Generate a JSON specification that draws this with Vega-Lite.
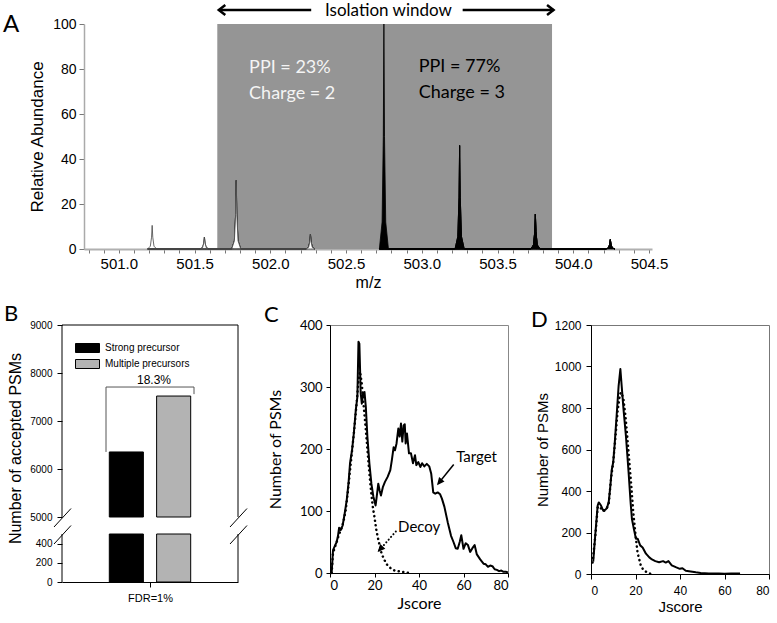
{
  "$schema": "https://vega.github.io/schema/vega-lite/v6.json",
  "background": "white",
  "padding": {"left": 2, "top": 0, "right": 0, "bottom": 0},
  "config": {
    "view": {"stroke": null},
    "font": "Liberation Sans",
    "axis": {"labelColor": "black", "titleColor": "black", "titleFontWeight": "normal", "grid": false, "domainColor": "black", "tickColor": "black", "labelOverlap": false}
  },
  "datasets": {
    "win": [{"start": 501.65, "end": 503.86, "top": 100}],
    "peaks": [
      {"peak": "p1", "kind": "open", "mz": 501.19, "ab": 0}, {"peak": "p1", "kind": "open", "mz": 501.208, "ab": 1.26}, {"peak": "p1", "kind": "open", "mz": 501.216, "ab": 5.25}, {"peak": "p1", "kind": "open", "mz": 501.22, "ab": 10.5}, {"peak": "p1", "kind": "open", "mz": 501.224, "ab": 5.25}, {"peak": "p1", "kind": "open", "mz": 501.232, "ab": 1.26}, {"peak": "p1", "kind": "open", "mz": 501.25, "ab": 0},
      {"peak": "p2", "kind": "open", "mz": 501.535, "ab": 0}, {"peak": "p2", "kind": "open", "mz": 501.553, "ab": 0.64}, {"peak": "p2", "kind": "open", "mz": 501.561, "ab": 2.65}, {"peak": "p2", "kind": "open", "mz": 501.565, "ab": 5.3}, {"peak": "p2", "kind": "open", "mz": 501.569, "ab": 2.65}, {"peak": "p2", "kind": "open", "mz": 501.577, "ab": 0.64}, {"peak": "p2", "kind": "open", "mz": 501.595, "ab": 0},
      {"peak": "p3", "kind": "open", "mz": 501.745, "ab": 0}, {"peak": "p3", "kind": "open", "mz": 501.763, "ab": 3.66}, {"peak": "p3", "kind": "open", "mz": 501.771, "ab": 15.25}, {"peak": "p3", "kind": "open", "mz": 501.775, "ab": 30.5}, {"peak": "p3", "kind": "open", "mz": 501.779, "ab": 15.25}, {"peak": "p3", "kind": "open", "mz": 501.787, "ab": 3.66}, {"peak": "p3", "kind": "open", "mz": 501.805, "ab": 0},
      {"peak": "p4", "kind": "open", "mz": 502.235, "ab": 0}, {"peak": "p4", "kind": "open", "mz": 502.253, "ab": 0.78}, {"peak": "p4", "kind": "open", "mz": 502.261, "ab": 3.25}, {"peak": "p4", "kind": "open", "mz": 502.265, "ab": 6.5}, {"peak": "p4", "kind": "open", "mz": 502.269, "ab": 3.25}, {"peak": "p4", "kind": "open", "mz": 502.277, "ab": 0.78}, {"peak": "p4", "kind": "open", "mz": 502.295, "ab": 0},
      {"peak": "p5", "kind": "filled", "mz": 502.72, "ab": 0}, {"peak": "p5", "kind": "filled", "mz": 502.738, "ab": 12}, {"peak": "p5", "kind": "filled", "mz": 502.746, "ab": 50}, {"peak": "p5", "kind": "filled", "mz": 502.75, "ab": 100}, {"peak": "p5", "kind": "filled", "mz": 502.754, "ab": 50}, {"peak": "p5", "kind": "filled", "mz": 502.762, "ab": 12}, {"peak": "p5", "kind": "filled", "mz": 502.78, "ab": 0},
      {"peak": "p6", "kind": "filled", "mz": 503.22, "ab": 0}, {"peak": "p6", "kind": "filled", "mz": 503.238, "ab": 5.52}, {"peak": "p6", "kind": "filled", "mz": 503.246, "ab": 23}, {"peak": "p6", "kind": "filled", "mz": 503.25, "ab": 46}, {"peak": "p6", "kind": "filled", "mz": 503.254, "ab": 23}, {"peak": "p6", "kind": "filled", "mz": 503.262, "ab": 5.52}, {"peak": "p6", "kind": "filled", "mz": 503.28, "ab": 0},
      {"peak": "p7", "kind": "filled", "mz": 503.72, "ab": 0}, {"peak": "p7", "kind": "filled", "mz": 503.738, "ab": 1.86}, {"peak": "p7", "kind": "filled", "mz": 503.746, "ab": 7.75}, {"peak": "p7", "kind": "filled", "mz": 503.75, "ab": 15.5}, {"peak": "p7", "kind": "filled", "mz": 503.754, "ab": 7.75}, {"peak": "p7", "kind": "filled", "mz": 503.762, "ab": 1.86}, {"peak": "p7", "kind": "filled", "mz": 503.78, "ab": 0},
      {"peak": "p8", "kind": "filled", "mz": 504.215, "ab": 0}, {"peak": "p8", "kind": "filled", "mz": 504.233, "ab": 0.5}, {"peak": "p8", "kind": "filled", "mz": 504.241, "ab": 2.1}, {"peak": "p8", "kind": "filled", "mz": 504.245, "ab": 4.2}, {"peak": "p8", "kind": "filled", "mz": 504.249, "ab": 2.1}, {"peak": "p8", "kind": "filled", "mz": 504.257, "ab": 0.5}, {"peak": "p8", "kind": "filled", "mz": 504.275, "ab": 0}
    ],
    "ppi": [
      {"label": "PPI = 23%", "mz": 501.86, "ab": 80.5, "grp": "low"},
      {"label": "Charge = 2", "mz": 501.86, "ab": 69, "grp": "low"},
      {"label": "PPI = 77%", "mz": 502.98, "ab": 81, "grp": "high"},
      {"label": "Charge = 3", "mz": 502.98, "ab": 69.5, "grp": "high"}
    ],
    "iso": [{"a": 501.66, "b": 502.27, "ab": 106.2}, {"a": 503.27, "b": 503.87, "ab": 106.2}],
    "isoHeadL": [{"mz": 501.66, "ab": 106.2}],
    "isoHeadR": [{"mz": 503.87, "ab": 106.2}],
    "isoLabel": [{"label": "Isolation window", "mz": 502.78, "ab": 105.9}],
    "panelA": [{"label": "A", "mz": 500.235, "ab": 99.6}],
    "spacer": [{}],
    "bars": [
      {"cat": "FDR=1%", "type": "Strong precursor", "n": 6355},
      {"cat": "FDR=1%", "type": "Multiple precursors", "n": 7520}
    ],
    "bracket": [
      {"type": "Strong precursor", "v": 6355, "i": 1},
      {"type": "Strong precursor", "v": 7708, "i": 2},
      {"type": "Multiple precursors", "v": 7708, "i": 3},
      {"type": "Multiple precursors", "v": 7560, "i": 4}
    ],
    "cat": [{"cat": "FDR=1%", "label": "18.3%", "v": 7850}],
    "frame": [
      {"edge": "L", "lo": 5000, "hi": 9000}, {"edge": "L", "lo": 0, "hi": 500},
      {"edge": "R", "lo": 5000, "hi": 9000}, {"edge": "R", "lo": 0, "hi": 500}
    ],
    "slash": [
      {"edge": "L", "v": 5000}, {"edge": "L", "v": 500},
      {"edge": "R", "v": 5000}, {"edge": "R", "v": 500}
    ],
    "panelB": [{"edge": "L", "v": 9000, "label": "B"}],
    "ct": [
      {"x": 0.75, "y": 0}, {"x": 1.35, "y": 37}, {"x": 2.1, "y": 43}, {"x": 3, "y": 50}, {"x": 3.6, "y": 60}, {"x": 4.1, "y": 73}, {"x": 4.8, "y": 69}, {"x": 5.7, "y": 77}, {"x": 6.6, "y": 96}, {"x": 7.5, "y": 117}, {"x": 8.3, "y": 144}, {"x": 9, "y": 177}, {"x": 9.9, "y": 198}, {"x": 10.7, "y": 225}, {"x": 11.6, "y": 263}, {"x": 12.3, "y": 284}, {"x": 12.8, "y": 373}, {"x": 13.2, "y": 370}, {"x": 13.8, "y": 290}, {"x": 14.3, "y": 273}, {"x": 14.9, "y": 290}, {"x": 15.5, "y": 292}, {"x": 16.1, "y": 268}, {"x": 16.8, "y": 220}, {"x": 17.7, "y": 177}, {"x": 18.6, "y": 144}, {"x": 19.5, "y": 123}, {"x": 20.5, "y": 109}, {"x": 21, "y": 123}, {"x": 21.7, "y": 144}, {"x": 22.3, "y": 133}, {"x": 22.9, "y": 125}, {"x": 23.8, "y": 139}, {"x": 24.7, "y": 147}, {"x": 25.9, "y": 155}, {"x": 27.1, "y": 166}, {"x": 27.8, "y": 182}, {"x": 28.6, "y": 203}, {"x": 29.2, "y": 198}, {"x": 29.9, "y": 209}, {"x": 30.7, "y": 233}, {"x": 31.3, "y": 220}, {"x": 31.9, "y": 241}, {"x": 32.5, "y": 212}, {"x": 33.1, "y": 238}, {"x": 33.6, "y": 240}, {"x": 34, "y": 209}, {"x": 34.6, "y": 225}, {"x": 35.5, "y": 193}, {"x": 36.4, "y": 193}, {"x": 37.3, "y": 177}, {"x": 38.2, "y": 190}, {"x": 38.8, "y": 174}, {"x": 39.7, "y": 179}, {"x": 40.6, "y": 171}, {"x": 41.4, "y": 177}, {"x": 42.4, "y": 172}, {"x": 43.5, "y": 176}, {"x": 44.6, "y": 172}, {"x": 45.5, "y": 160}, {"x": 46.4, "y": 130}, {"x": 47.3, "y": 128}, {"x": 48.4, "y": 130}, {"x": 49.5, "y": 127}, {"x": 50.3, "y": 120}, {"x": 51.4, "y": 107}, {"x": 52.9, "y": 82}, {"x": 54.4, "y": 60}, {"x": 55.5, "y": 50}, {"x": 56.5, "y": 40}, {"x": 57.4, "y": 39}, {"x": 58.3, "y": 50}, {"x": 59, "y": 61}, {"x": 60, "y": 39}, {"x": 61, "y": 48}, {"x": 62, "y": 45}, {"x": 63, "y": 34}, {"x": 64, "y": 40}, {"x": 65, "y": 45}, {"x": 66, "y": 30}, {"x": 67.5, "y": 22}, {"x": 69, "y": 15}, {"x": 70, "y": 14}, {"x": 71, "y": 10}, {"x": 72, "y": 12}, {"x": 73, "y": 11}, {"x": 74, "y": 6}, {"x": 75, "y": 5}, {"x": 76, "y": 3}, {"x": 77, "y": 4}, {"x": 78, "y": 2}, {"x": 79, "y": 2}, {"x": 80, "y": 1}
    ],
    "cd": [
      {"x": 0.75, "y": 0}, {"x": 1.3, "y": 30}, {"x": 2, "y": 40}, {"x": 3, "y": 50}, {"x": 4, "y": 62}, {"x": 5, "y": 70}, {"x": 6, "y": 82}, {"x": 7, "y": 100}, {"x": 8, "y": 130}, {"x": 9, "y": 165}, {"x": 10, "y": 200}, {"x": 11, "y": 235}, {"x": 12, "y": 275}, {"x": 12.8, "y": 310}, {"x": 13.5, "y": 325}, {"x": 14.3, "y": 305}, {"x": 15, "y": 275}, {"x": 16, "y": 235}, {"x": 16.8, "y": 200}, {"x": 17.6, "y": 165}, {"x": 18.5, "y": 130}, {"x": 19.3, "y": 105}, {"x": 20, "y": 90}, {"x": 20.8, "y": 70}, {"x": 21.5, "y": 57}, {"x": 22.5, "y": 42}, {"x": 23.2, "y": 31}, {"x": 24.3, "y": 22}, {"x": 25.5, "y": 14}, {"x": 26.8, "y": 9}, {"x": 28, "y": 6}, {"x": 29, "y": 4}, {"x": 30.5, "y": 3}, {"x": 32, "y": 2}, {"x": 34, "y": 1}, {"x": 35.5, "y": 0}
    ],
    "cann": [{"label": "Target", "x": 56.7, "y": 187}, {"label": "Decoy", "x": 30.6, "y": 74}],
    "carrT": [{"x": 55.6, "y": 175, "x2": 48.6, "y2": 144}],
    "carrD": [{"x": 29.6, "y": 67, "x2": 22, "y2": 36}],
    "cheadT": [{"x": 48.1, "y": 141.6}],
    "cheadD": [{"x": 21.4, "y": 34}],
    "panelC": [{"label": "C", "x": -29.7, "y": 416}],
    "dt": [
      {"x": 1, "y": 60}, {"x": 2, "y": 200}, {"x": 3, "y": 330}, {"x": 3.5, "y": 345}, {"x": 4.5, "y": 330}, {"x": 5.5, "y": 305}, {"x": 6.5, "y": 310}, {"x": 7.2, "y": 318}, {"x": 8, "y": 350}, {"x": 8.7, "y": 425}, {"x": 9.3, "y": 500}, {"x": 10, "y": 540}, {"x": 10.6, "y": 620}, {"x": 11.5, "y": 760}, {"x": 12.4, "y": 905}, {"x": 13.2, "y": 988}, {"x": 13.8, "y": 905}, {"x": 14.6, "y": 795}, {"x": 15.7, "y": 665}, {"x": 16.9, "y": 490}, {"x": 17.8, "y": 345}, {"x": 18.4, "y": 265}, {"x": 19.3, "y": 215}, {"x": 20.2, "y": 170}, {"x": 21, "y": 170}, {"x": 22.1, "y": 138}, {"x": 23.2, "y": 128}, {"x": 24.7, "y": 98}, {"x": 26.2, "y": 80}, {"x": 27.4, "y": 70}, {"x": 28.9, "y": 62}, {"x": 30.6, "y": 57}, {"x": 32.4, "y": 62}, {"x": 33.6, "y": 55}, {"x": 34.8, "y": 62}, {"x": 36.3, "y": 42}, {"x": 38.1, "y": 33}, {"x": 39.9, "y": 25}, {"x": 41.1, "y": 28}, {"x": 42.6, "y": 16}, {"x": 44.8, "y": 12}, {"x": 47.1, "y": 8}, {"x": 49.3, "y": 5}, {"x": 53, "y": 3}, {"x": 57.5, "y": 2}, {"x": 60, "y": 1}, {"x": 63, "y": 3}, {"x": 65, "y": 2}, {"x": 67, "y": 3}
    ],
    "dd": [
      {"x": 0.7, "y": 55}, {"x": 2, "y": 190}, {"x": 3, "y": 320}, {"x": 4, "y": 325}, {"x": 5, "y": 305}, {"x": 6, "y": 305}, {"x": 7, "y": 315}, {"x": 8, "y": 340}, {"x": 9, "y": 460}, {"x": 10, "y": 540}, {"x": 11, "y": 660}, {"x": 12, "y": 790}, {"x": 13, "y": 865}, {"x": 13.5, "y": 875}, {"x": 14.5, "y": 850}, {"x": 15.5, "y": 760}, {"x": 16.4, "y": 650}, {"x": 17.3, "y": 530}, {"x": 18.1, "y": 426}, {"x": 19, "y": 297}, {"x": 19.9, "y": 200}, {"x": 20.9, "y": 104}, {"x": 22.4, "y": 40}, {"x": 23.5, "y": 20}, {"x": 24.7, "y": 11}, {"x": 26, "y": 4}, {"x": 27, "y": 0}
    ],
    "panelD": [{"label": "D", "x": -27, "y": 1222}]
  },
  "vconcat": [
    {
      "hconcat": [
        {
          "width": 1,
          "height": 225,
          "data": {"name": "spacer"},
          "mark": {"type": "point", "opacity": 0, "size": 1}
        },
        {
          "width": 568,
          "height": 225,
          "layer": [
            {
              "data": {"name": "win"},
              "mark": {"type": "rect", "color": "#959595"},
              "encoding": {
                "x": {"field": "start", "type": "quantitative", "scale": {"domain": [500.77, 504.52], "nice": false, "zero": false},
                  "axis": {"orient": "bottom", "values": [500.8, 500.9, 501.1, 501.2, 501.3, 501.4, 501.6, 501.7, 501.8, 501.9, 502.1, 502.2, 502.3, 502.4, 502.6, 502.7, 502.8, 502.9, 503.1, 503.2, 503.3, 503.4, 503.6, 503.7, 503.8, 503.9, 504.1, 504.2, 504.3, 504.4],
                    "tickCount": 100, "labels": false, "tickSize": 4, "tickColor": "#777", "domain": false, "title": null}},
                "x2": {"field": "end"},
                "y": {"field": "top", "type": "quantitative", "scale": {"domain": [0, 100], "nice": false},
                  "axis": {"values": [0, 20, 40, 60, 80, 100], "tickCount": 100, "labelFontSize": 14, "labelPadding": 3, "tickSize": 5, "tickColor": "#777", "domainColor": "#aaa", "domainWidth": 1.5,
                    "title": "Relative Abundance", "titleFontSize": 17, "titlePadding": 6}},
                "y2": {"datum": 0}
              }
            },
            {
              "data": {"name": "peaks"},
              "transform": [{"filter": "datum.kind === 'open'"}],
              "mark": {"type": "area", "fill": "white", "stroke": "#444", "strokeWidth": 0.8},
              "encoding": {
                "x": {"field": "mz", "type": "quantitative",
                  "axis": {"orient": "bottom", "values": [501.0, 501.5, 502.0, 502.5, 503.0, 503.5, 504.0, 504.5], "tickCount": 100, "format": ".1f",
                    "labelFontSize": 15, "labelPadding": 3, "tickSize": 4, "tickColor": "#777", "domainColor": "#b0b0b0", "domainWidth": 2,
                    "title": "m/z", "titleFontSize": 16, "titlePadding": 3}},
                "y": {"field": "ab", "type": "quantitative"},
                "detail": {"field": "peak"}
              }
            },
            {
              "data": {"name": "peaks"},
              "transform": [{"filter": "datum.kind === 'filled'"}],
              "mark": {"type": "area", "fill": "black", "stroke": "black", "strokeWidth": 0.8},
              "encoding": {
                "x": {"field": "mz", "type": "quantitative", "axis": null},
                "y": {"field": "ab", "type": "quantitative"},
                "detail": {"field": "peak"}
              }
            },
            {
              "data": {"name": "ppi"},
              "transform": [{"filter": "datum.grp === 'low'"}],
              "mark": {"type": "text", "font": "Lato", "fontSize": 18, "align": "left", "baseline": "middle", "color": "#f4f4f4"},
              "encoding": {
                "x": {"field": "mz", "type": "quantitative", "axis": null},
                "y": {"field": "ab", "type": "quantitative"},
                "text": {"field": "label"}
              }
            },
            {
              "data": {"name": "ppi"},
              "transform": [{"filter": "datum.grp === 'high'"}],
              "mark": {"type": "text", "font": "Lato", "fontSize": 18, "align": "left", "baseline": "middle", "color": "black"},
              "encoding": {
                "x": {"field": "mz", "type": "quantitative", "axis": null},
                "y": {"field": "ab", "type": "quantitative"},
                "text": {"field": "label"}
              }
            },
            {
              "data": {"name": "iso"},
              "mark": {"type": "rule", "color": "black", "strokeWidth": 2.5},
              "encoding": {
                "x": {"field": "a", "type": "quantitative", "axis": null},
                "x2": {"field": "b"},
                "y": {"field": "ab", "type": "quantitative"}
              }
            },
            {
              "data": {"name": "isoHeadL"},
              "mark": {"type": "point", "shape": "M1.3,-1L0,0L1.3,1", "size": 100, "color": "black", "strokeWidth": 2.5, "opacity": 1, "filled": false},
              "encoding": {
                "x": {"field": "mz", "type": "quantitative", "axis": null},
                "y": {"field": "ab", "type": "quantitative"}
              }
            },
            {
              "data": {"name": "isoHeadR"},
              "mark": {"type": "point", "shape": "M-1.3,-1L0,0L-1.3,1", "size": 100, "color": "black", "strokeWidth": 2.5, "opacity": 1, "filled": false},
              "encoding": {
                "x": {"field": "mz", "type": "quantitative", "axis": null},
                "y": {"field": "ab", "type": "quantitative"}
              }
            },
            {
              "data": {"name": "isoLabel"},
              "mark": {"type": "text", "font": "Lato", "fontSize": 17, "align": "center", "baseline": "middle", "color": "black"},
              "encoding": {
                "x": {"field": "mz", "type": "quantitative", "axis": null},
                "y": {"field": "ab", "type": "quantitative"},
                "text": {"field": "label"}
              }
            },
            {
              "data": {"name": "panelA"},
              "mark": {"type": "text", "font": "Lato", "fontSize": 24, "align": "left", "baseline": "middle", "color": "black"},
              "encoding": {
                "x": {"field": "mz", "type": "quantitative", "axis": null},
                "y": {"field": "ab", "type": "quantitative"},
                "text": {"field": "label"}
              }
            }
          ],
          "resolve": {"axis": {"x": "independent"}}
        }
      ],
      "spacing": 21,
      "bounds": "flush"
    },
    {
      "hconcat": [
        {
          "width": 176,
          "height": 257,
          "layer": [
            {
              "data": {"name": "bars"},
              "mark": {"type": "bar", "stroke": "black", "strokeWidth": 1},
              "encoding": {
                "x": {"field": "type", "type": "nominal", "sort": ["Strong precursor", "Multiple precursors"],
                  "scale": {"domain": ["Strong precursor", "Multiple precursors"], "paddingInner": 0.28, "paddingOuter": 1.63}, "axis": null},
                "y": {"field": "n", "type": "quantitative",
                  "scale": {"domain": [0, 500, 5000, 9000], "range": [257, 209, 192, 0], "nice": false, "zero": false},
                  "axis": {"values": [0, 200, 400, 5000, 6000, 7000, 8000, 9000], "tickCount": 100, "format": "d", "domain": false, "labelFontSize": 10, "labelPadding": 5, "tickSize": 5,
                    "title": "Number of accepted PSMs", "titleFontSize": 16, "titlePadding": 6, "titleY": 123}},
                "y2": {"datum": 5000},
                "fill": {"field": "type", "type": "nominal",
                  "scale": {"domain": ["Strong precursor", "Multiple precursors"], "range": ["black", "#b3b3b3"]},
                  "legend": {"title": null, "orient": "none", "legendX": 20, "legendY": 17.5, "symbolType": "M-2.4,-0.9H2.4V0.9H-2.4Z", "symbolSize": 100,
                    "symbolStrokeColor": "black", "symbolStrokeWidth": 1, "symbolOpacity": 1, "labelFontSize": 10, "labelOffset": 12, "rowPadding": 3, "padding": 0}}
              }
            },
            {
              "data": {"name": "bars"},
              "mark": {"type": "bar", "stroke": "black", "strokeWidth": 1},
              "encoding": {
                "x": {"field": "type", "type": "nominal", "sort": ["Strong precursor", "Multiple precursors"],
                  "scale": {"domain": ["Strong precursor", "Multiple precursors"], "paddingInner": 0.28, "paddingOuter": 1.63}, "axis": null},
                "y": {"datum": 500},
                "y2": {"datum": 0},
                "fill": {"field": "type", "type": "nominal"}
              }
            },
            {
              "data": {"name": "bracket"},
              "mark": {"type": "line", "color": "#555", "strokeWidth": 1},
              "encoding": {
                "x": {"field": "type", "type": "nominal", "sort": ["Strong precursor", "Multiple precursors"],
                  "scale": {"domain": ["Strong precursor", "Multiple precursors"], "paddingInner": 0.28, "paddingOuter": 1.63}, "axis": null},
                "y": {"field": "v", "type": "quantitative"},
                "order": {"field": "i"}
              }
            },
            {
              "data": {"name": "cat"},
              "mark": {"type": "text", "fontSize": 12, "dx": 4, "baseline": "middle"},
              "encoding": {
                "x": {"field": "cat", "type": "nominal", "scale": {"paddingInner": 0, "paddingOuter": 0},
                  "axis": {"orient": "bottom", "bandPosition": 0.5, "labelFontSize": 11, "labelPadding": 5, "tickSize": 5, "labelAngle": 0, "title": null, "domainColor": "black"}},
                "y": {"field": "v", "type": "quantitative"},
                "text": {"field": "label"}
              }
            },
            {
              "data": {"name": "frame"},
              "mark": {"type": "rule", "color": "black", "strokeWidth": 1},
              "encoding": {
                "x": {"field": "edge", "type": "ordinal", "scale": {"type": "point", "domain": ["L", "R"], "padding": 0}, "axis": null},
                "y": {"field": "lo", "type": "quantitative"},
                "y2": {"field": "hi"}
              }
            },
            {
              "data": {"name": "panelB"},
              "mark": {"type": "rule", "color": "black", "strokeWidth": 1},
              "encoding": {
                "y": {"field": "v", "type": "quantitative"}
              }
            },
            {
              "data": {"name": "slash"},
              "mark": {"type": "point", "shape": "M-0.8,1L0.9,-0.85", "size": 400, "color": "black", "strokeWidth": 1, "opacity": 1, "filled": false},
              "encoding": {
                "x": {"field": "edge", "type": "ordinal", "scale": {"type": "point", "domain": ["L", "R"], "padding": 0}, "axis": null},
                "y": {"field": "v", "type": "quantitative"}
              }
            },
            {
              "data": {"name": "panelB"},
              "mark": {"type": "text", "font": "Lato", "fontSize": 22, "align": "left", "baseline": "middle", "dx": -58, "dy": -11},
              "encoding": {
                "x": {"field": "edge", "type": "ordinal", "scale": {"type": "point", "domain": ["L", "R"], "padding": 0}, "axis": null},
                "y": {"field": "v", "type": "quantitative"},
                "text": {"field": "label"}
              }
            }
          ],
          "resolve": {"scale": {"x": "independent"}, "axis": {"x": "independent"}}
        },
        {
          "hconcat": [
            {
              "width": 178,
              "height": 248,
              "view": {"stroke": "#888"},
              "layer": [
                {
                  "data": {"name": "ct"},
                  "mark": {"type": "line", "color": "black", "strokeWidth": 2, "strokeJoin": "round"},
                  "encoding": {
                    "x": {"field": "x", "type": "quantitative", "scale": {"domain": [0, 80], "nice": false},
                      "axis": {"values": [0, 20, 40, 60, 80], "labelFont": "Lato", "labelFontSize": 13, "labelPadding": 2, "tickSize": 4, "title": "Jscore", "titleFont": "Lato", "titleFontSize": 16, "titlePadding": 3}},
                    "y": {"field": "y", "type": "quantitative", "scale": {"domain": [0, 400], "nice": false},
                      "axis": {"values": [0, 100, 200, 300, 400], "labelFont": "Lato", "labelFontSize": 13, "labelPadding": 4, "tickSize": 4, "title": "Number of PSMs", "titleFont": "Lato", "titleFontSize": 16, "titlePadding": 16}}
                  }
                },
                {
                  "data": {"name": "cd"},
                  "mark": {"type": "line", "color": "black", "strokeWidth": 2.5, "strokeDash": [0.1, 4.5], "strokeCap": "round"},
                  "encoding": {
                    "x": {"field": "x", "type": "quantitative"},
                    "y": {"field": "y", "type": "quantitative"}
                  }
                },
                {
                  "data": {"name": "cann"},
                  "mark": {"type": "text", "font": "Lato", "fontSize": 15, "align": "left", "baseline": "middle", "color": "black"},
                  "encoding": {
                    "x": {"field": "x", "type": "quantitative"},
                    "y": {"field": "y", "type": "quantitative"},
                    "text": {"field": "label"}
                  }
                },
                {
                  "data": {"name": "carrT"},
                  "mark": {"type": "rule", "color": "black", "strokeWidth": 1.5},
                  "encoding": {
                    "x": {"field": "x", "type": "quantitative"},
                    "y": {"field": "y", "type": "quantitative"},
                    "x2": {"field": "x2"},
                    "y2": {"field": "y2"}
                  }
                },
                {
                  "data": {"name": "carrD"},
                  "mark": {"type": "rule", "color": "black", "strokeWidth": 2, "strokeDash": [0.1, 3.5], "strokeCap": "round"},
                  "encoding": {
                    "x": {"field": "x", "type": "quantitative"},
                    "y": {"field": "y", "type": "quantitative"},
                    "x2": {"field": "x2"},
                    "y2": {"field": "y2"}
                  }
                },
                {
                  "data": {"name": "cheadT"},
                  "mark": {"type": "point", "shape": "M0,0L-0.55,1.2L0.55,1.2Z", "size": 160, "angle": 219, "color": "black", "filled": true, "opacity": 1},
                  "encoding": {
                    "x": {"field": "x", "type": "quantitative"},
                    "y": {"field": "y", "type": "quantitative"}
                  }
                },
                {
                  "data": {"name": "cheadD"},
                  "mark": {"type": "point", "shape": "M0,0L-0.55,1.2L0.55,1.2Z", "size": 160, "angle": 223, "color": "black", "filled": true, "opacity": 1},
                  "encoding": {
                    "x": {"field": "x", "type": "quantitative"},
                    "y": {"field": "y", "type": "quantitative"}
                  }
                },
                {
                  "data": {"name": "panelC"},
                  "mark": {"type": "text", "font": "Lato", "fontSize": 22, "align": "left", "baseline": "middle", "color": "black"},
                  "encoding": {
                    "x": {"field": "x", "type": "quantitative"},
                    "y": {"field": "y", "type": "quantitative"},
                    "text": {"field": "label"}
                  }
                }
              ]
            },
            {
              "width": 178,
              "height": 249,
              "view": {"stroke": "#777"},
              "layer": [
                {
                  "data": {"name": "dt"},
                  "mark": {"type": "line", "color": "black", "strokeWidth": 2, "strokeJoin": "round"},
                  "encoding": {
                    "x": {"field": "x", "type": "quantitative", "scale": {"domain": [0, 80], "nice": false},
                      "axis": {"values": [0, 20, 40, 60, 80], "labelFontSize": 12, "labelPadding": 6, "tickSize": 5, "title": "Jscore", "titleFontSize": 15, "titlePadding": 3}},
                    "y": {"field": "y", "type": "quantitative", "scale": {"domain": [0, 1200], "nice": false},
                      "axis": {"values": [0, 200, 400, 600, 800, 1000, 1200], "tickCount": 100, "format": "d", "labelFontSize": 12, "labelPadding": 5, "tickSize": 5, "title": "Number of PSMs", "titleFontSize": 15, "titlePadding": 4}}
                  }
                },
                {
                  "data": {"name": "dd"},
                  "mark": {"type": "line", "color": "black", "strokeWidth": 2.5, "strokeDash": [0.1, 4.5], "strokeCap": "round"},
                  "encoding": {
                    "x": {"field": "x", "type": "quantitative"},
                    "y": {"field": "y", "type": "quantitative"}
                  }
                },
                {
                  "data": {"name": "panelD"},
                  "mark": {"type": "text", "font": "Lato", "fontSize": 22, "align": "left", "baseline": "middle", "color": "black"},
                  "encoding": {
                    "x": {"field": "x", "type": "quantitative"},
                    "y": {"field": "y", "type": "quantitative"},
                    "text": {"field": "label"}
                  }
                }
              ]
            }
          ],
          "spacing": 83,
          "bounds": "flush"
        }
      ],
      "spacing": 92,
      "bounds": "flush",
      "resolve": {"scale": {"fill": "independent"}, "legend": {"fill": "independent"}}
    }
  ],
  "spacing": 13,
  "resolve": {"scale": {"fill": "independent"}, "legend": {"fill": "independent"}}
}
